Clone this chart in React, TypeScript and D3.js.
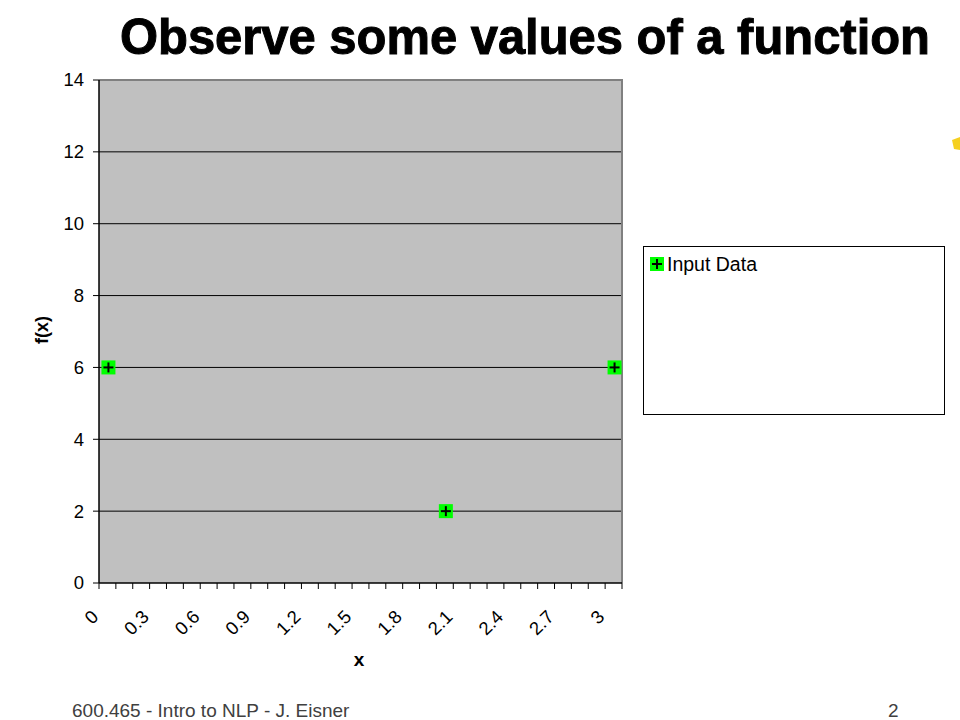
import React from "react";
import * as d3 from "d3";

const categories = [
  "0", "0.1", "0.2", "0.3", "0.4", "0.5", "0.6", "0.7", "0.8", "0.9",
  "1", "1.1", "1.2", "1.3", "1.4", "1.5", "1.6", "1.7", "1.8", "1.9",
  "2", "2.1", "2.2", "2.3", "2.4", "2.5", "2.6", "2.7", "2.8", "2.9", "3",
];
const xTickLabels = ["0", "0.3", "0.6", "0.9", "1.2", "1.5", "1.8", "2.1", "2.4", "2.7", "3"];
const yTicks = [0, 2, 4, 6, 8, 10, 12, 14];
const inputX = ["0", "2", "3"];
const inputY = [6, 2, 6];
const seriesName = "Input Data";

const W = 960;
const H = 720;
const plot = { left: 99, right: 622, top: 80, bottom: 583 };

function Marker({ cx, cy }: { cx: number; cy: number }) {
  return (
    <g>
      <rect x={cx - 7} y={cy - 7} width={14} height={14} fill="#00FF00" />
      <line x1={cx - 5} x2={cx + 5} y1={cy} y2={cy} stroke="#000" strokeWidth={2} />
      <line x1={cx} x2={cx} y1={cy - 5} y2={cy + 5} stroke="#000" strokeWidth={2} />
    </g>
  );
}

export default function App() {
  const x = d3.scaleBand<string>().domain(categories).range([plot.left, plot.right]).padding(0);
  const y = d3.scaleLinear().domain([0, 14]).range([plot.bottom, plot.top]);
  const bw = x.bandwidth();
  const font = "'Liberation Sans', Arial, sans-serif";

  return (
    <svg width={W} height={H} style={{ position: "absolute", left: 0, top: 0, background: "#fff" }} fontFamily={font}>
      <rect x={0} y={0} width={W} height={H} fill="#fff" />
      <text x={120} y={54} fontSize={50} fontWeight="900" textLength={810} lengthAdjust="spacingAndGlyphs" fill="#000" stroke="#000" strokeWidth={1}>
        Observe some values of a function
      </text>
      <polygon points="952,140 960,137 960,150 954,149" fill="#F5D020" />

      {/* plot area */}
      <rect x={plot.left} y={plot.top} width={plot.right - plot.left} height={plot.bottom - plot.top} fill="#C0C0C0" />
      {yTicks.filter((t) => t > 0 && t < 14).map((t) => (
        <line key={t} x1={plot.left} x2={plot.right} y1={y(t)} y2={y(t)} stroke="#000" strokeWidth={1} />
      ))}
      <line x1={plot.left} x2={plot.right + 1} y1={plot.top} y2={plot.top} stroke="#808080" strokeWidth={2} />
      <line x1={plot.right} x2={plot.right} y1={plot.top} y2={plot.bottom} stroke="#808080" strokeWidth={2} />
      <line x1={plot.left} x2={plot.left} y1={plot.top} y2={plot.bottom} stroke="#000" strokeWidth={1.5} />
      <line x1={plot.left} x2={plot.right} y1={plot.bottom} y2={plot.bottom} stroke="#000" strokeWidth={1.5} />

      {/* y ticks */}
      {yTicks.map((t) => (
        <g key={t}>
          <line x1={plot.left - 6} x2={plot.left} y1={y(t)} y2={y(t)} stroke="#000" strokeWidth={1} />
          <text x={84} y={y(t)} dy="0.35em" textAnchor="end" fontSize={18.5} fill="#000">
            {t}
          </text>
        </g>
      ))}

      {/* x ticks */}
      {categories.map((c) => (
        <line key={c} x1={x(c)!} x2={x(c)!} y1={plot.bottom} y2={plot.bottom + 6} stroke="#000" strokeWidth={1} />
      ))}
      <line x1={plot.right} x2={plot.right} y1={plot.bottom} y2={plot.bottom + 6} stroke="#000" strokeWidth={1} />
      {xTickLabels.map((l) => {
        const ax = x(l)! + bw / 2 - 8;
        const ay = 618;
        return (
          <text key={l} x={ax} y={ay} textAnchor="end" fontSize={18.5} fill="#000" transform={`rotate(-45 ${ax} ${ay})`}>
            {l}
          </text>
        );
      })}

      <text x={359} y={666} textAnchor="middle" fontSize={19} fontWeight="bold" fill="#000">x</text>
      <text x={48} y={330} textAnchor="middle" fontSize={18} fontWeight="bold" fill="#000" transform="rotate(-90 48 330)">
        f(x)
      </text>

      {/* points */}
      {inputX.map((c, i) => (
        <Marker key={c} cx={x(c)! + bw / 2 + 1} cy={y(inputY[i])} />
      ))}

      {/* legend */}
      <rect x={643.5} y={246.5} width={301} height={168} fill="#fff" stroke="#000" strokeWidth={1} />
      <Marker cx={657} cy={264} />
      <text x={667} y={271} fontSize={19.5} fill="#000">{seriesName}</text>

      {/* footer */}
      <text x={72} y={717} fontSize={19} fill="#404040">600.465 - Intro to NLP - J. Eisner</text>
      <text x={888} y={717} fontSize={19} fill="#404040">2</text>
    </svg>
  );
}
